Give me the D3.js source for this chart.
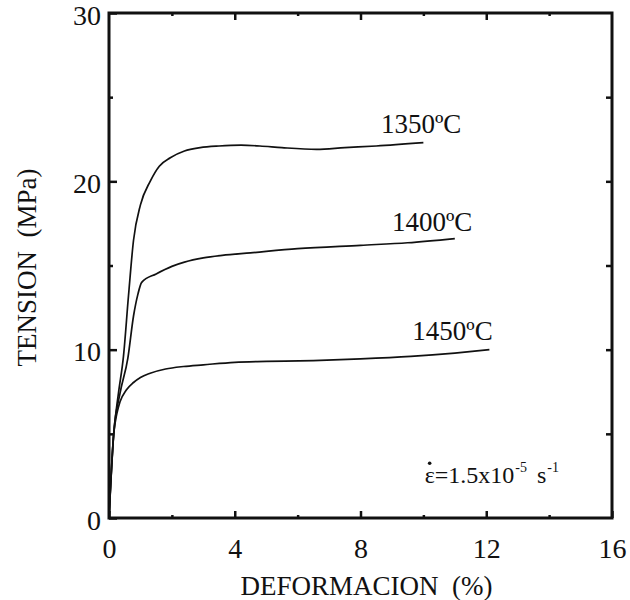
<!DOCTYPE html>
<html>
<head>
<meta charset="utf-8">
<script src="https://cdn.jsdelivr.net/npm/d3@7"></script>
<style>
  body { margin: 0; background: #fff; }
  svg text { font-family: "Liberation Serif", "Times New Roman", serif; fill: #111; }
  .tick line { stroke: #111; stroke-width: 2.5; }
</style>
</head>
<body>
<div id="chart"></div>
<script>
// strain (%) / stress (MPa)
var s1350 = [[0,0],[0.15,5],[0.3,7.4],[0.46,9.6],[0.62,13.2],[0.78,16.5],[1.0,18.6],[1.31,20.0],[1.6,20.9],[1.95,21.4],[2.4,21.8],[2.9,22.0],[3.5,22.1],[4.2,22.15],[4.8,22.1],[5.5,22.0],[6.6,21.9],[7.5,22.0],[8.5,22.1],[10.0,22.3]];
var s1400 = [[0,0],[0.15,5],[0.35,7.4],[0.6,9.5],[0.78,12.0],[0.92,13.3],[1.04,14.0],[1.5,14.5],[2.0,14.95],[2.4,15.2],[3.0,15.45],[3.6,15.6],[4.5,15.75],[6.0,16.0],[8.0,16.2],[9.5,16.35],[11.0,16.6]];
var s1450 = [[0,0],[0.15,5],[0.25,6.2],[0.35,6.9],[0.55,7.6],[0.78,8.05],[1.0,8.35],[1.31,8.6],[1.8,8.85],[2.37,9.0],[3.0,9.1],[4.0,9.25],[5.0,9.3],[6.5,9.35],[8.0,9.45],[9.6,9.6],[11.0,9.8],[12.1,10.0]];

var series = [
  { name: "1350ºC", values: s1350 },
  { name: "1400ºC", values: s1400 },
  { name: "1450ºC", values: s1450 }
];

var x_major = [0, 4, 8, 12, 16],
  x_minor = [2, 6, 10, 14],
  y_major = [0, 10, 20, 30],
  y_minor = [5, 15, 25];

var width = 630,
  height = 600;
var margin = { top: 13, right: 18, bottom: 82, left: 109 };
var w = width - margin.left - margin.right,
  h = height - margin.top - margin.bottom;

var svg = d3
  .select("#chart")
  .append("svg")
  .attr("width", width)
  .attr("height", height);

var g = svg
  .append("g")
  .attr("transform", "translate(" + margin.left + "," + margin.top + ")");

var x = d3.scaleLinear().domain([0, 16]).range([0, w]);
var y = d3.scaleLinear().domain([0, 30]).range([h, 0]);

// bottom axis with labels
var xb = g
  .append("g")
  .attr("transform", "translate(0," + h + ")")
  .call(d3.axisBottom(x).tickValues(x_major).tickSize(-7).tickPadding(20));
xb.selectAll("text").attr("font-size", 28).attr("dy", "0.71em");

g.append("g")
  .attr("transform", "translate(0," + h + ")")
  .call(d3.axisBottom(x).tickValues(x_minor).tickSize(-3).tickFormat(""));

// top axis, ticks only
g.append("g")
  .call(d3.axisTop(x).tickValues([4, 8, 12]).tickSize(-7).tickFormat(""));
g.append("g")
  .call(d3.axisTop(x).tickValues(x_minor).tickSize(-3).tickFormat(""));

// left axis
var yl = g
  .append("g")
  .call(d3.axisLeft(y).tickValues(y_major).tickSize(-8).tickPadding(8));
yl.selectAll("text").attr("font-size", 28).attr("dy", "0.4em");

g.append("g")
  .call(d3.axisLeft(y).tickValues(y_minor).tickSize(-4).tickFormat(""));

// right axis, ticks only
g.append("g")
  .attr("transform", "translate(" + w + ",0)")
  .call(d3.axisRight(y).tickValues([5, 10, 15, 20, 25]).tickSize(-6).tickFormat(""));

g.selectAll(".domain").remove();

// frame
g.append("rect")
  .attr("x", 0)
  .attr("y", 0)
  .attr("width", w)
  .attr("height", h)
  .attr("fill", "none")
  .attr("stroke", "#111")
  .attr("stroke-width", 3);

// curves
var line = d3
  .line()
  .x((d) => x(d[0]))
  .y((d) => y(d[1]))
  .curve(d3.curveMonotoneX);

g.selectAll(".curve")
  .data(series)
  .enter()
  .append("path")
  .attr("class", "curve")
  .attr("d", (d) => line(d.values))
  .attr("fill", "none")
  .attr("stroke", "#111")
  .attr("stroke-width", 1.7);

// curve labels
var label_pos = [[8.65, 22.9], [9.0, 17.05], [9.65, 10.6]];
g.selectAll(".curve-label")
  .data(series)
  .enter()
  .append("text")
  .attr("class", "curve-label")
  .attr("x", (d, i) => x(label_pos[i][0]))
  .attr("y", (d, i) => y(label_pos[i][1]))
  .attr("font-size", 27)
  .text((d) => d.name);

// strain rate note
var note = g
  .append("text")
  .attr("x", x(10.04))
  .attr("y", y(2.08))
  .attr("font-size", 24);
note.append("tspan").text("ε=1.5x10");
note.append("tspan").attr("font-size", 14).attr("dy", -11).attr("dx", 1).text("-5");
note.append("tspan").attr("dy", 11).attr("dx", 10).text("s");
note.append("tspan").attr("font-size", 14).attr("dy", -11).attr("dx", 1).text("-1");

// dot over epsilon
g.append("circle")
  .attr("cx", x(10.2))
  .attr("cy", y(3.25))
  .attr("r", 1.8)
  .attr("fill", "#111");

// axis titles
svg
  .append("text")
  .attr("x", margin.left + w / 2 + 6)
  .attr("y", 595)
  .attr("text-anchor", "middle")
  .attr("font-size", 27)
  .attr("xml:space", "preserve")
  .text("DEFORMACION  (%)");

svg
  .append("text")
  .attr("transform", "translate(36," + (margin.top + h / 2 + 2) + ") rotate(-90)")
  .attr("text-anchor", "middle")
  .attr("font-size", 27)
  .attr("xml:space", "preserve")
  .text("TENSION  (MPa)");
</script>
</body>
</html>
